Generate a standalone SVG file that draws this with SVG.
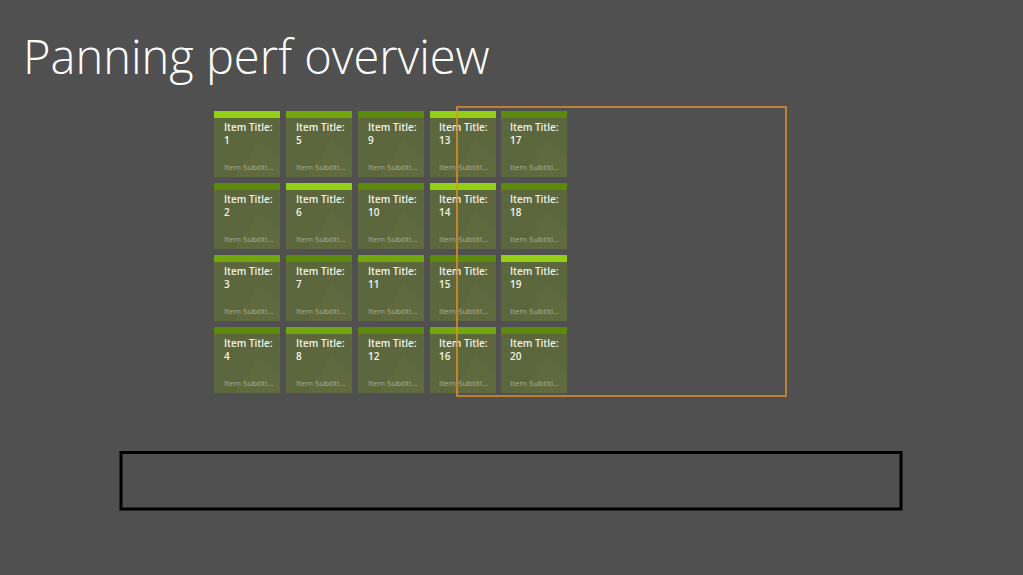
<svg xmlns="http://www.w3.org/2000/svg" width="1023" height="575" viewBox="0 0 1023 575">
<style>
.tile{fill:#5c673d}
.b1{fill:#93cf12}
.b2{fill:#72a80e}
.b3{fill:#5b8a0c}
.t{font-family:"Open Sans","Liberation Sans",sans-serif;font-size:10px;font-weight:600;fill:#f2f2ea}
.s{font-family:"Open Sans","Liberation Sans",sans-serif;font-size:8px;fill:#a9ae96}
</style>
<rect width="1023" height="575" fill="#505050"/>
<text x="23" y="74" font-family="'Open Sans','Noto Sans',sans-serif" font-weight="300" font-size="47" fill="#ffffff">Panning perf overview</text>
<defs>
<g id="tb">
<rect class="tile" width="66" height="66"/>
<path d="M20 66 L46 30 L66 50 L66 66 Z" fill="#636e40" opacity="0.5"/>
</g>
</defs>
<g id="tile1" transform="translate(214,111)"><use href="#tb"/><rect class="b1" width="66" height="7"/><text class="t" x="10" y="20">Item Title:</text><text class="t" x="10" y="33">1</text><text class="s" x="10" y="59">Item Subtitl…</text></g>
<g id="tile2" transform="translate(214,183)"><use href="#tb"/><rect class="b3" width="66" height="7"/><text class="t" x="10" y="20">Item Title:</text><text class="t" x="10" y="33">2</text><text class="s" x="10" y="59">Item Subtitl…</text></g>
<g id="tile3" transform="translate(214,255)"><use href="#tb"/><rect class="b2" width="66" height="7"/><text class="t" x="10" y="20">Item Title:</text><text class="t" x="10" y="33">3</text><text class="s" x="10" y="59">Item Subtitl…</text></g>
<g id="tile4" transform="translate(214,327)"><use href="#tb"/><rect class="b3" width="66" height="7"/><text class="t" x="10" y="20">Item Title:</text><text class="t" x="10" y="33">4</text><text class="s" x="10" y="59">Item Subtitl…</text></g>
<g id="tile5" transform="translate(286,111)"><use href="#tb"/><rect class="b2" width="66" height="7"/><text class="t" x="10" y="20">Item Title:</text><text class="t" x="10" y="33">5</text><text class="s" x="10" y="59">Item Subtitl…</text></g>
<g id="tile6" transform="translate(286,183)"><use href="#tb"/><rect class="b1" width="66" height="7"/><text class="t" x="10" y="20">Item Title:</text><text class="t" x="10" y="33">6</text><text class="s" x="10" y="59">Item Subtitl…</text></g>
<g id="tile7" transform="translate(286,255)"><use href="#tb"/><rect class="b3" width="66" height="7"/><text class="t" x="10" y="20">Item Title:</text><text class="t" x="10" y="33">7</text><text class="s" x="10" y="59">Item Subtitl…</text></g>
<g id="tile8" transform="translate(286,327)"><use href="#tb"/><rect class="b2" width="66" height="7"/><text class="t" x="10" y="20">Item Title:</text><text class="t" x="10" y="33">8</text><text class="s" x="10" y="59">Item Subtitl…</text></g>
<g id="tile9" transform="translate(358,111)"><use href="#tb"/><rect class="b3" width="66" height="7"/><text class="t" x="10" y="20">Item Title:</text><text class="t" x="10" y="33">9</text><text class="s" x="10" y="59">Item Subtitl…</text></g>
<g id="tile10" transform="translate(358,183)"><use href="#tb"/><rect class="b3" width="66" height="7"/><text class="t" x="10" y="20">Item Title:</text><text class="t" x="10" y="33">10</text><text class="s" x="10" y="59">Item Subtitl…</text></g>
<g id="tile11" transform="translate(358,255)"><use href="#tb"/><rect class="b2" width="66" height="7"/><text class="t" x="10" y="20">Item Title:</text><text class="t" x="10" y="33">11</text><text class="s" x="10" y="59">Item Subtitl…</text></g>
<g id="tile12" transform="translate(358,327)"><use href="#tb"/><rect class="b3" width="66" height="7"/><text class="t" x="10" y="20">Item Title:</text><text class="t" x="10" y="33">12</text><text class="s" x="10" y="59">Item Subtitl…</text></g>
<g id="tile13" transform="translate(430,111)"><use href="#tb"/><rect class="b1" width="66" height="7"/><text class="t" x="9" y="20">Item Title:</text><text class="t" x="9" y="33">13</text><text class="s" x="9" y="59">Item Subtitl…</text></g>
<g id="tile14" transform="translate(430,183)"><use href="#tb"/><rect class="b1" width="66" height="7"/><text class="t" x="9" y="20">Item Title:</text><text class="t" x="9" y="33">14</text><text class="s" x="9" y="59">Item Subtitl…</text></g>
<g id="tile15" transform="translate(430,255)"><use href="#tb"/><rect class="b3" width="66" height="7"/><text class="t" x="9" y="20">Item Title:</text><text class="t" x="9" y="33">15</text><text class="s" x="9" y="59">Item Subtitl…</text></g>
<g id="tile16" transform="translate(430,327)"><use href="#tb"/><rect class="b2" width="66" height="7"/><text class="t" x="9" y="20">Item Title:</text><text class="t" x="9" y="33">16</text><text class="s" x="9" y="59">Item Subtitl…</text></g>
<g id="tile17" transform="translate(501,111)"><use href="#tb"/><rect class="b3" width="66" height="7"/><text class="t" x="9" y="20">Item Title:</text><text class="t" x="9" y="33">17</text><text class="s" x="9" y="59">Item Subtitl…</text></g>
<g id="tile18" transform="translate(501,183)"><use href="#tb"/><rect class="b3" width="66" height="7"/><text class="t" x="9" y="20">Item Title:</text><text class="t" x="9" y="33">18</text><text class="s" x="9" y="59">Item Subtitl…</text></g>
<g id="tile19" transform="translate(501,255)"><use href="#tb"/><rect class="b1" width="66" height="7"/><text class="t" x="9" y="20">Item Title:</text><text class="t" x="9" y="33">19</text><text class="s" x="9" y="59">Item Subtitl…</text></g>
<g id="tile20" transform="translate(501,327)"><use href="#tb"/><rect class="b3" width="66" height="7"/><text class="t" x="9" y="20">Item Title:</text><text class="t" x="9" y="33">20</text><text class="s" x="9" y="59">Item Subtitl…</text></g>
<g id="connectors"></g>
<rect id="viewport" x="457" y="107" width="329" height="289" fill="none" stroke="#e39126" stroke-width="1.5"/>
<rect id="bar" x="121" y="452.5" width="780" height="56.5" fill="none" stroke="#000000" stroke-width="3"/>
</svg>
